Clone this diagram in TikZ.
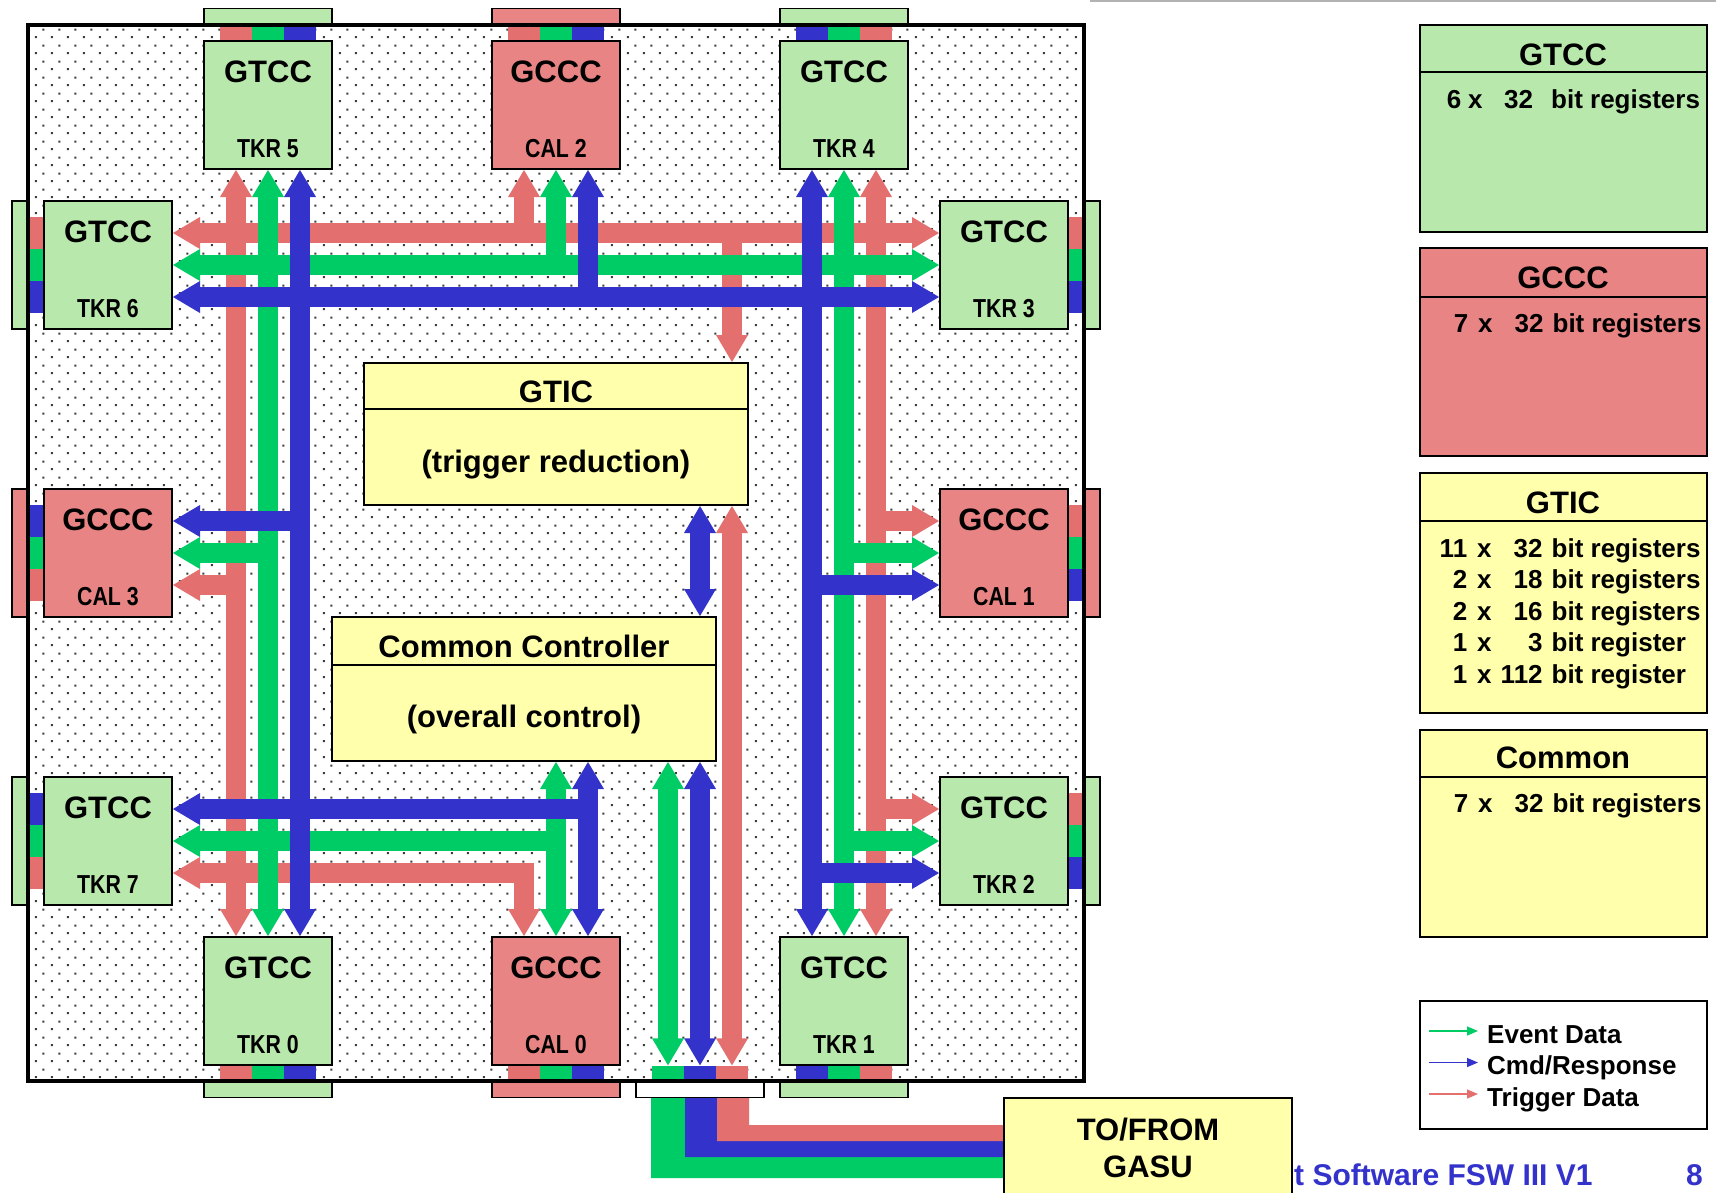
\documentclass[tikz,border=0pt]{standalone}
\usepackage{fontspec}
\setmainfont{Liberation Sans}
\usepackage{graphicx}
\usetikzlibrary{calc,patterns,arrows.meta}

\definecolor{cr}{RGB}{227,111,111}
\definecolor{cg}{RGB}{0,204,102}
\definecolor{cb}{RGB}{51,51,204}
\definecolor{gfill}{RGB}{184,232,172}
\definecolor{rfill}{RGB}{232,132,132}
\definecolor{yfill}{RGB}{255,255,172}
\definecolor{dotc}{RGB}{60,60,60}

\pgfdeclarepatternformonly{sdots}{\pgfpointorigin}{\pgfpoint{16pt}{16pt}}{\pgfpoint{16pt}{16pt}}{%
 \pgfpathrectangle{\pgfpoint{3pt}{3pt}}{\pgfpoint{2.2pt}{2.2pt}}%
 \pgfpathrectangle{\pgfpoint{11pt}{11pt}}{\pgfpoint{2.2pt}{2.2pt}}%
 \pgfusepath{fill}}

\tikzset{
 shaft/.style={line width=20pt,line cap=butt,line join=miter},
 box/.style={draw=black,line width=2pt,minimum width=128pt,minimum height=128pt,inner sep=0pt},
 gbox/.style={box,fill=gfill},
 rbox/.style={box,fill=rfill},
 ybox/.style={draw=black,line width=2pt,fill=yfill,inner sep=0pt},
 tabg/.style={draw=black,line width=1.5pt,fill=gfill},
 tabr/.style={draw=black,line width=1.5pt,fill=rfill},
 tabw/.style={draw=black,line width=1.5pt,fill=white},
 ttl/.style={font=\fontsize{31}{31}\selectfont\bfseries,anchor=base,inner sep=0pt},
 lbl/.style={font=\fontsize{26}{26}\selectfont\bfseries,anchor=base,inner sep=0pt},
 reg/.style={font=\fontsize{26}{26}\selectfont\bfseries,anchor=base west,inner sep=0pt},
 divl/.style={line width=2pt},
}

% arrow head: colour, tip, point it comes from
\newcommand\ahead[3]{%
  \path (#2) coordinate (tp) (#3) coordinate (fp);
  \path ($(tp)!27pt!(fp)$) coordinate (hb);
  \fill[#1] (tp) -- ($(hb)!16pt!90:(tp)$) -- ($(hb)!16pt!-90:(tp)$) -- cycle;}
\newcommand\sgl[3]{%
  \draw[shaft,#1,shorten >=25pt] (#2) -- (#3);
  \ahead{#1}{#3}{#2}}
\newcommand\dbl[3]{%
  \draw[shaft,#1,shorten <=25pt,shorten >=25pt] (#2) -- (#3);
  \ahead{#1}{#3}{#2}\ahead{#1}{#2}{#3}}

\newcommand\ttab[5]{%
  \draw[#2] (#1-64,8.5) rectangle (#1+64,25);
  \fill[#3] (#1-48,27) rectangle (#1-16,40);
  \fill[#4] (#1-16,27) rectangle (#1+16,40);
  \fill[#5] (#1+16,27) rectangle (#1+48,40);}
\newcommand\btab[5]{%
  \draw[#2] (#1-64,1081) rectangle (#1+64,1097.5);
  \fill[#3] (#1-48,1066) rectangle (#1-16,1079);
  \fill[#4] (#1-16,1066) rectangle (#1+16,1079);
  \fill[#5] (#1+16,1066) rectangle (#1+48,1079);}
\newcommand\ltab[5]{%
  \draw[#2] (12,#1-64) rectangle (28,#1+64);
  \fill[#3] (30,#1-48) rectangle (43,#1-16);
  \fill[#4] (30,#1-16) rectangle (43,#1+16);
  \fill[#5] (30,#1+16) rectangle (43,#1+48);}
\newcommand\rtab[5]{%
  \draw[#2] (1084,#1-64) rectangle (1100,#1+64);
  \fill[#3] (1069,#1-48) rectangle (1082,#1-16);
  \fill[#4] (1069,#1-16) rectangle (1082,#1+16);
  \fill[#5] (1069,#1+16) rectangle (1082,#1+48);}

\newcommand\boxtxt[3]{%
  \node[ttl] (#1t) at ($(#1.center)+(0,-23)$) {#2};
  \node[lbl] (#1l) at ($(#1.center)+(0,52)$) {\scalebox{0.82}[1]{#3}};}

\newcommand\regl[3]{\makebox[37pt][r]{#1}\hspace{10pt}x\makebox[51pt][r]{#2}\hspace{9pt}#3}

\begin{document}
\begin{tikzpicture}[x=1pt,y=-1pt]
\useasboundingbox (0,0) rectangle (1716,1192);
\clip (0,0) rectangle (1716,1192);
\fill[white] (0,0) rectangle (1716,1192);

% header line
\draw[gray!60,line width=1.5pt] (1090,0.8) -- (1716,0.8);

% board background
\fill[pattern=sdots,pattern color=dotc] (28,25) rectangle (1084,1081);

% tabs outside the frame + colour strips
\ttab{268}{tabg}{cr}{cg}{cb}
\ttab{556}{tabr}{cr}{cg}{cb}
\ttab{844}{tabg}{cb}{cg}{cr}
\btab{268}{tabg}{cr}{cg}{cb}
\btab{556}{tabr}{cr}{cg}{cb}
\btab{844}{tabg}{cb}{cg}{cr}
\btab{700}{tabw}{cg}{cb}{cr}
\ltab{265}{tabg}{cr}{cg}{cb}
\ltab{553}{tabr}{cb}{cg}{cr}
\ltab{841}{tabg}{cb}{cg}{cr}
\rtab{265}{tabg}{cr}{cg}{cb}
\rtab{553}{tabr}{cr}{cg}{cb}
\rtab{841}{tabg}{cr}{cg}{cb}

% cables to GASU
\fill[cg] (651,1098) -- (685,1098) -- (685,1157) -- (1006,1157) -- (1006,1178) -- (651,1178) -- cycle;
\fill[cb] (685,1098) -- (717,1098) -- (717,1141) -- (1006,1141) -- (1006,1157) -- (685,1157) -- cycle;
\fill[cr] (717,1098) -- (749,1098) -- (749,1125) -- (1006,1125) -- (1006,1141) -- (717,1141) -- cycle;

% frame
\draw[line width=3.5pt] (28,25) rectangle (1084,1081);

% boxes
\node[gbox] (TKR5) at (268,105) {};
\node[rbox] (CAL2) at (556,105) {};
\node[gbox] (TKR4) at (844,105) {};
\node[gbox] (TKR6) at (108,265) {};
\node[gbox] (TKR3) at (1004,265) {};
\node[rbox] (CAL3) at (108,553) {};
\node[rbox] (CAL1) at (1004,553) {};
\node[gbox] (TKR7) at (108,841) {};
\node[gbox] (TKR2) at (1004,841) {};
\node[gbox] (TKR0) at (268,1001) {};
\node[rbox] (CAL0) at (556,1001) {};
\node[gbox] (TKR1) at (844,1001) {};
\node[inner sep=0pt,minimum width=96pt,minimum height=14pt] (port) at (700,1072.5) {};

\boxtxt{TKR5}{GTCC}{TKR 5}
\boxtxt{CAL2}{GCCC}{CAL 2}
\boxtxt{TKR4}{GTCC}{TKR 4}
\boxtxt{TKR6}{GTCC}{TKR 6}
\boxtxt{TKR3}{GTCC}{TKR 3}
\boxtxt{CAL3}{GCCC}{CAL 3}
\boxtxt{CAL1}{GCCC}{CAL 1}
\boxtxt{TKR7}{GTCC}{TKR 7}
\boxtxt{TKR2}{GTCC}{TKR 2}
\boxtxt{TKR0}{GTCC}{TKR 0}
\boxtxt{CAL0}{GCCC}{CAL 0}
\boxtxt{TKR1}{GTCC}{TKR 1}

% GTIC and Common Controller
\node[ybox,minimum width=384pt,minimum height=142pt] (GTIC) at (556,434) {};
\draw[divl] (GTIC.west |- 0,409) -- (GTIC.east |- 0,409);
\node[ttl] (GTICt) at (556,402) {GTIC};
\node[ttl] (GTICs) at (556,472) {(trigger reduction)};
\node[ybox,minimum width=384pt,minimum height=144pt] (CC) at (524,689) {};
\draw[divl] (CC.west |- 0,665) -- (CC.east |- 0,665);
\node[ttl] (CCt) at (524,657) {Common Controller};
\node[ttl] (CCs) at (524,727) {(overall control)};

% helper coordinates
\coordinate (hR) at ($(TKR6.east)+(0,-32)$);
\coordinate (hG) at (TKR6.east);
\coordinate (hB) at ($(TKR6.east)+(0,32)$);
\coordinate (lR) at ($(TKR5.south)+(-32,0)$);
\coordinate (lG) at (TKR5.south);
\coordinate (lB) at ($(TKR5.south)+(32,0)$);
\coordinate (rB) at ($(TKR4.south)+(-32,0)$);
\coordinate (rG) at (TKR4.south);
\coordinate (rR) at ($(TKR4.south)+(32,0)$);
\coordinate (c2R) at ($(CAL2.south)+(-32,0)$);
\coordinate (c2G) at (CAL2.south);
\coordinate (c2B) at ($(CAL2.south)+(32,0)$);
\coordinate (gtR) at ($(GTIC.north)+(176,0)$);
\coordinate (c3B) at ($(CAL3.east)+(0,-32)$);
\coordinate (c3G) at (CAL3.east);
\coordinate (c3R) at ($(CAL3.east)+(0,32)$);
\coordinate (c1R) at ($(CAL1.west)+(0,-32)$);
\coordinate (c1G) at (CAL1.west);
\coordinate (c1B) at ($(CAL1.west)+(0,32)$);
\coordinate (t2R) at ($(TKR2.west)+(0,-32)$);
\coordinate (t2G) at (TKR2.west);
\coordinate (t2B) at ($(TKR2.west)+(0,32)$);
\coordinate (t7B) at ($(TKR7.east)+(0,-32)$);
\coordinate (t7G) at (TKR7.east);
\coordinate (t7R) at ($(TKR7.east)+(0,32)$);
\coordinate (c0R) at ($(CAL0.north)+(-32,0)$);
\coordinate (c0G) at (CAL0.north);
\coordinate (c0B) at ($(CAL0.north)+(32,0)$);
\coordinate (gcB) at ($(GTIC.south)+(144,0)$);
\coordinate (pG) at ($(port.north)+(-32,0)$);
\coordinate (pB) at (port.north);
\coordinate (pR) at ($(port.north)+(32,0)$);

% ---- trigger data (red)
\dbl{cr}{hR}{TKR3.west |- hR}
\dbl{cr}{lR}{TKR0.north -| lR}
\dbl{cr}{rR}{TKR1.north -| rR}
\sgl{cr}{c2R |- hR}{c2R}
\sgl{cr}{gtR |- hR}{gtR}
\sgl{cr}{lR |- c3R}{c3R}
\sgl{cr}{rR |- c1R}{c1R}
\sgl{cr}{rR |- t2R}{t2R}
\draw[shaft,cr,shorten <=25pt,shorten >=25pt] (t7R) -- (c0R |- t7R) -- (c0R);
\ahead{cr}{t7R}{c0R |- t7R}\ahead{cr}{c0R}{c0R |- t7R}
\dbl{cr}{pR |- GTIC.south}{pR}

% ---- event data (green)
\dbl{cg}{hG}{TKR3.west}
\dbl{cg}{lG}{TKR0.north}
\dbl{cg}{rG}{TKR1.north}
\sgl{cg}{c2G |- hG}{c2G}
\sgl{cg}{lG |- c3G}{c3G}
\sgl{cg}{rG |- c1G}{c1G}
\sgl{cg}{rG |- t2G}{t2G}
\sgl{cg}{c0G |- t7G}{t7G}
\dbl{cg}{c0G |- CC.south}{c0G}
\dbl{cg}{pG |- CC.south}{pG}

% ---- cmd/response (blue)
\dbl{cb}{hB}{TKR3.west |- hB}
\dbl{cb}{lB}{TKR0.north -| lB}
\dbl{cb}{rB}{TKR1.north -| rB}
\sgl{cb}{c2B |- hB}{c2B}
\sgl{cb}{lB |- c3B}{c3B}
\sgl{cb}{rB |- c1B}{c1B}
\sgl{cb}{rB |- t2B}{t2B}
\sgl{cb}{c0B |- t7B}{t7B}
\dbl{cb}{c0B |- CC.south}{c0B}
\dbl{cb}{gcB}{gcB |- CC.north}
\dbl{cb}{pB |- CC.south}{pB}

% footer
\node[anchor=base west,inner sep=0pt,text=cb,font=\fontsize{30}{30}\selectfont\bfseries] (foot) at (1294,1185) {t Software FSW III V1};
\node[anchor=base west,inner sep=0pt,text=cb,font=\fontsize{30}{30}\selectfont\bfseries] (page) at (1686,1185) {8};

% GASU
\node[ybox,minimum width=288pt,minimum height=140pt] (GASU) at (1148,1168) {};
\node[ttl] (GASUa) at (1148,1140) {TO/FROM};
\node[ttl] (GASUb) at (1148,1177) {GASU};

% register boxes
\node[box,fill=gfill,minimum width=287pt,minimum height=207pt] (rgTCC) at (1563.5,128.5) {};
\draw[divl] (rgTCC.west |- 0,72) -- (rgTCC.east |- 0,72);
\node[ttl] (rgTCCt) at (1563,65) {GTCC};
\node[reg] (rgTCC1) at (1424,108) {\makebox[37pt][r]{6}\hspace{7pt}x\makebox[50.5pt][r]{32}\hspace{18pt}bit registers};

\node[box,fill=rfill,minimum width=287pt,minimum height=208pt] (rgCCC) at (1563.5,352) {};
\draw[divl] (rgCCC.west |- 0,297) -- (rgCCC.east |- 0,297);
\node[ttl] (rgCCCt) at (1563,288) {GCCC};
\node[reg] (rgCCC1) at (1431,332) {\regl{7}{32}{bit registers}};

\node[box,fill=yfill,minimum width=287pt,minimum height=240pt] (rgTIC) at (1563.5,593) {};
\draw[divl] (rgTIC.west |- 0,521) -- (rgTIC.east |- 0,521);
\node[ttl] (rgTICt) at (1563,513) {GTIC};
\node[reg] (rgTIC1) at (1430,557) {\regl{11}{32}{bit registers}};
\node[reg] (rgTIC2) at (1430,588.5) {\regl{2}{18}{bit registers}};
\node[reg] (rgTIC3) at (1430,620) {\regl{2}{16}{bit registers}};
\node[reg] (rgTIC4) at (1430,651.5) {\regl{1}{3}{bit register}};
\node[reg] (rgTIC5) at (1430,683) {\regl{1}{112}{bit register}};

\node[box,fill=yfill,minimum width=287pt,minimum height=207pt] (rgCom) at (1563.5,833.5) {};
\draw[divl] (rgCom.west |- 0,777) -- (rgCom.east |- 0,777);
\node[ttl] (rgComt) at (1563,768) {Common};
\node[reg] (rgCom1) at (1431,812) {\regl{7}{32}{bit registers}};

% legend
\node[box,fill=white,minimum width=287pt,minimum height=128pt] (leg) at (1563.5,1065) {};
\node[reg] (lgE) at (1487,1043) {Event Data};
\node[reg] (lgC) at (1487,1074.5) {Cmd/Response};
\node[reg] (lgT) at (1487,1106) {Trigger Data};
\draw[cg,line width=1.3pt,-{Triangle[length=11pt,width=9pt]}] ($(lgE.base west)+(-58,-12)$) -- ($(lgE.base west)+(-9,-12)$);
\draw[cb,line width=1.3pt,-{Triangle[length=11pt,width=9pt]}] ($(lgC.base west)+(-58,-12)$) -- ($(lgC.base west)+(-9,-12)$);
\draw[cr,line width=1.3pt,-{Triangle[length=11pt,width=9pt]}] ($(lgT.base west)+(-58,-12)$) -- ($(lgT.base west)+(-9,-12)$);
\end{tikzpicture}
\end{document}
